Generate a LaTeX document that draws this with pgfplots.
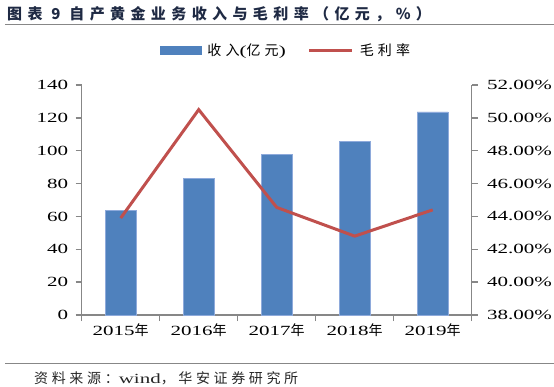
\documentclass[border=0pt]{standalone}
\usepackage{fontspec}
\usepackage{pgfplots}
\pgfplotsset{compat=1.18}
\setmainfont{Liberation Serif}[FakeStretch=1.5]
\newfontfamily\cjk{Noto Sans CJK SC}[LetterSpace=30]
\newfontfamily\cjks{Noto Sans CJK SC}[LetterSpace=26]
\newfontfamily\cjkt{Noto Sans CJK SC}[LetterSpace=36]
\newfontfamily\cjkn{Noto Sans CJK SC}
\definecolor{barblue}{HTML}{4F81BD}
\definecolor{baredge}{HTML}{8EAADB}
\definecolor{linered}{HTML}{C0504D}
\definecolor{axisgray}{HTML}{878787}
\definecolor{titlecol}{HTML}{1F2A44}
\begin{document}
\begin{tikzpicture}
\path[use as bounding box] (0pt,0pt) rectangle (554pt,386pt);
\draw[axisgray, line width=0.8pt] (5pt,361.5pt) -- (554pt,361.5pt);
\draw[axisgray, line width=0.8pt] (5pt,22.7pt) -- (554pt,22.7pt);
\node[anchor=west, inner sep=0pt, text=titlecol, font=\cjkt\bfseries\fontsize{15}{15}\selectfont] at (7pt,372pt) {图表 9 自产黄金业务收入与毛利率（亿元，\%）};
\node[anchor=west, inner sep=0pt, text=black!85, font=\fontsize{14}{14}\selectfont] at (34pt,8pt) {{\cjks 资料来源：}wind{\cjks ，华安证券研究所}};
\begin{axis}[
  at={(81.7pt,71pt)}, anchor=south west,
  scale only axis, width=390pt, height=230pt,
  xmin=-0.5, xmax=4.5, ymin=0, ymax=140,
  axis x line*=bottom, axis y line*=left,
  axis line style={axisgray, line width=1.3pt},
  xtick={-0.5,0.5,1.5,2.5,3.5,4.5}, xticklabels={},
  extra x ticks={0,1,2,3,4},
  extra x tick labels={2015{\cjkn 年},2016{\cjkn 年},2017{\cjkn 年},2018{\cjkn 年},2019{\cjkn 年}},
  extra x tick style={major tick length=0pt, xticklabel style={yshift=-5pt}},
  ytick={0,20,...,140},
  tick align=outside, major tick length=6pt,
  tick style={axisgray, line width=1.3pt},
  ticklabel style={font=\fontsize{14}{14}\selectfont, text=black},
  yticklabel style={xshift=-4pt},
  /pgf/number format/assume math mode=true,
  clip=false,
]
\addplot[ybar, bar width=31pt, fill=barblue, draw=baredge, line width=0.5pt]
  coordinates {(0,63.5) (1,83.2) (2,97.8) (3,105.9) (4,123.6)};
\end{axis}
\begin{axis}[
  at={(81.7pt,71pt)}, anchor=south west,
  scale only axis, width=390pt, height=230pt,
  xmin=-0.5, xmax=4.5, ymin=38, ymax=52,
  axis y line*=right, axis x line=none,
  axis line style={axisgray, line width=1.3pt},
  ytick={38,40,...,52},
  yticklabel={\pgfmathprintnumber[fixed,fixed zerofill,precision=2]{\tick}\%},
  tick align=outside, major tick length=6pt,
  tick style={axisgray, line width=1.3pt},
  ticklabel style={font=\fontsize{14}{14}\selectfont, text=black},
  yticklabel style={xshift=6pt},
  /pgf/number format/assume math mode=true,
  legend columns=2,
  legend style={draw=none, fill=none, at={(0.524,1.152)}, anchor=center,
    font=\fontsize{14}{14}\selectfont,
    /tikz/every odd column/.append style={column sep=4pt},
    /tikz/every even column/.append style={column sep=20pt}},
  legend cell align=left,
  clip=false,
]
\addlegendimage{legend image code/.code={\fill[barblue] (0pt,-3.8pt) rectangle (41pt,3.8pt);}}
\addlegendentry{{\cjk 收入}({\cjk 亿元})}
\addplot[linered, line width=3pt, mark=none,
  legend image code/.code={\draw[linered, line width=3pt] (0pt,0pt) -- (43pt,0pt);}]
  coordinates {(0,43.9) (1,50.5) (2,44.55) (3,42.8) (4,44.4)};
\addlegendentry{{\cjk 毛利率}}
\end{axis}
\end{tikzpicture}
\end{document}
